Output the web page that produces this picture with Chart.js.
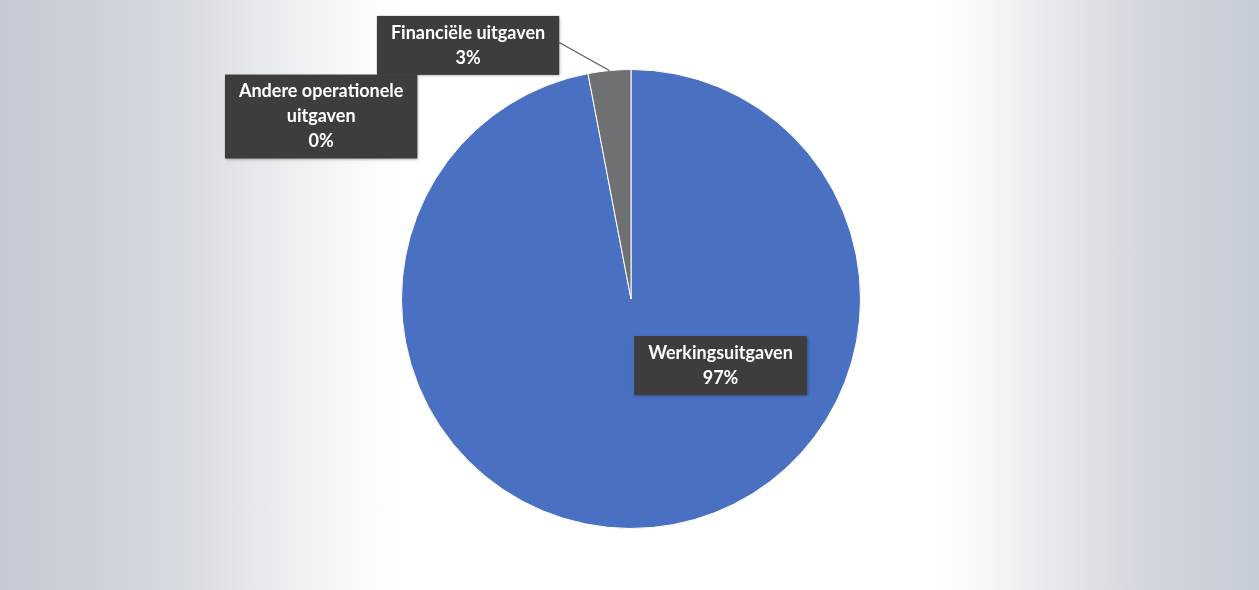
<!DOCTYPE html>
<html>
<head>
<meta charset="utf-8">
<script src="https://cdn.jsdelivr.net/npm/chart.js@4"></script>
<style>
  html, body { margin: 0; padding: 0; }
  #wrap {
    width: 1259px; height: 590px; position: relative;
    background: linear-gradient(90deg, #c6cbd3 0%, #cdd2d9 8%, #dadee3 16%, #eaedf0 22%, #f8f9fa 28%, #ffffff 32%, #ffffff 74%, #f4f5f7 79%, #e2e5e9 85%, #d0d4db 92%, #c7cdd5 100%);
  }
</style>
</head>
<body>
<div id="wrap"><canvas id="pieChart"></canvas></div>
<script>
const categories = ['Werkingsuitgaven', 'Financiële uitgaven', 'Andere operationele uitgaven'];
const values = [97, 3, 0];
const sliceColors = ['#4a71c1', '#6f7072', '#9a9a9a'];
// label text lines (category split as in the picture) and where each box sits, relative to the pie radius
const labelLines = [['Werkingsuitgaven'], ['Financiële uitgaven'], ['Andere operationele', 'uitgaven']];
const labelSpots = [[0.39, 0.29, false], [-0.71, -1.105, true], [-1.35, -0.795, false]];

const total = values.reduce((a, b) => a + b, 0);

const boxLabels = {
  id: 'boxLabels',
  afterDatasetsDraw(chart) {
    const ctx = chart.ctx;
    const arcs = chart.getDatasetMeta(0).data;
    ctx.save();
    ctx.font = 'bold 18px Lato';
    ctx.textAlign = 'center';
    ctx.textBaseline = 'middle';
    arcs.forEach((arc, i) => {
      const r = arc.outerRadius;
      const cx = arc.x + labelSpots[i][0] * r;
      const cy = arc.y + labelSpots[i][1] * r;
      const lines = labelLines[i].concat([Math.round(values[i] / total * 100) + '%']);
      const lh = 25;
      const w = Math.max(...lines.map(l => ctx.measureText(l).width)) + 28;
      const h = lines.length * lh + 9;
      const bx = cx - w / 2, by = cy - h / 2;
      if (labelSpots[i][2]) {
        const mid = (arc.startAngle + arc.endAngle) / 2;
        ctx.strokeStyle = '#5a5a5a';
        ctx.lineWidth = 1.2;
        ctx.beginPath();
        ctx.moveTo(bx + w, by + h * 0.45);
        ctx.lineTo(arc.x + Math.cos(mid) * r, arc.y + Math.sin(mid) * r);
        ctx.stroke();
      }
      ctx.shadowColor = 'rgba(0,0,0,0.35)';
      ctx.shadowBlur = 3;
      ctx.shadowOffsetX = 1;
      ctx.shadowOffsetY = 1;
      ctx.fillStyle = '#3d3d3d';
      ctx.fillRect(bx, by, w, h);
      ctx.shadowColor = 'transparent';
      ctx.fillStyle = '#ffffff';
      lines.forEach((l, k) => ctx.fillText(l, cx, by + 4.5 + lh * (k + 0.5)));
    });
    ctx.restore();
  }
};

new Chart(document.getElementById('pieChart').getContext('2d'), {
  type: 'pie',
  data: {
    labels: categories,
    datasets: [{
      data: values,
      backgroundColor: sliceColors,
      borderColor: '#ffffff',
      borderWidth: 1
    }]
  },
  options: {
    responsive: true,
    maintainAspectRatio: false,
    animation: false,
    layout: { padding: { top: 69, bottom: 61, left: 3, right: 0 } },
    plugins: {
      legend: { display: false },
      tooltip: { enabled: false }
    }
  },
  plugins: [boxLabels]
});
</script>
</body>
</html>
